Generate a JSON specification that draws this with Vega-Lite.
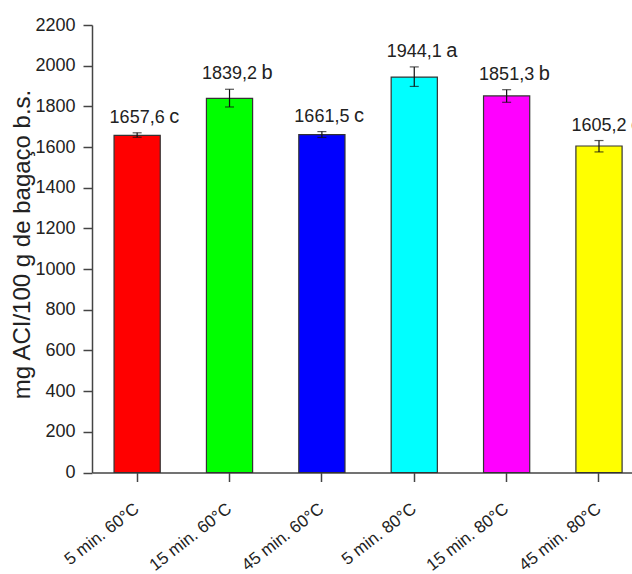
{
  "$schema": "https://vega.github.io/schema/vega-lite/v6.json",
  "autosize": "none",
  "width": 540,
  "height": 447.5,
  "padding": {"left": 92, "top": 25, "right": 0, "bottom": 101.5},
  "background": "white",
  "config": {
    "view": {"stroke": null},
    "font": "Liberation Sans",
    "axis": {"domainColor": "#444", "domainWidth": 1.5, "tickColor": "#444", "tickWidth": 1.5, "labelColor": "#222", "titleColor": "#222", "grid": false, "labelFont": "Liberation Sans", "titleFont": "Liberation Sans"}
  },
  "data": {
    "values": [
      {"cond": "5 min. 60°C", "mean": 1657.6, "lo": 1648, "hi": 1670, "num": "1657,6", "grp": "c"},
      {"cond": "15 min. 60°C", "mean": 1839.2, "lo": 1797, "hi": 1884, "num": "1839,2", "grp": "b"},
      {"cond": "45 min. 60°C", "mean": 1661.5, "lo": 1647, "hi": 1676, "num": "1661,5", "grp": "c"},
      {"cond": "5 min. 80°C", "mean": 1944.1, "lo": 1898, "hi": 1994, "num": "1944,1", "grp": "a"},
      {"cond": "15 min. 80°C", "mean": 1851.3, "lo": 1820, "hi": 1882, "num": "1851,3", "grp": "b"},
      {"cond": "45 min. 80°C", "mean": 1605.2, "lo": 1576, "hi": 1632, "num": "1605,2", "grp": "c"}
    ]
  },
  "encoding": {
    "x": {
      "field": "cond", "type": "nominal", "sort": null,
      "scale": {"paddingInner": 0.5, "paddingOuter": 0.173, "align": 0.69},
      "axis": {"title": null, "labelAngle": -38, "labelAlign": "right", "labelBaseline": "middle", "labelFontSize": 17, "labelPadding": 25, "tickSize": 9}
    }
  },
  "layer": [
    {
      "mark": {"type": "bar", "stroke": "#333", "strokeWidth": 1.2},
      "encoding": {
        "y": {
          "field": "mean", "type": "quantitative",
          "scale": {"domain": [0, 2200], "nice": false},
          "axis": {
            "title": "mg ACI/100 g de bagaço b.s.",
            "titleFontSize": 24, "titleFontWeight": "normal",
            "titleAngle": -90, "titleX": -70, "titleY": 219, "titleAlign": "center", "titleBaseline": "middle",
            "values": [0,100,200,300,400,500,600,700,800,900,1000,1100,1200,1300,1400,1500,1600,1700,1800,1900,2000,2100,2200],
            "labelExpr": "datum.value % 200 === 0 ? datum.label : ''",
            "format": "d",
            "labelFontSize": 18, "labelPadding": 8,
            "tickSize": {"condition": {"test": "datum.value % 200 === 0", "value": 9}, "value": 5}
          }
        },
        "fill": {
          "field": "cond", "type": "nominal", "sort": null, "legend": null,
          "scale": {
            "domain": ["5 min. 60°C", "15 min. 60°C", "45 min. 60°C", "5 min. 80°C", "15 min. 80°C", "45 min. 80°C"],
            "range": ["#ff0000", "#00ff00", "#0000ff", "#00ffff", "#ff00ff", "#ffff00"]
          }
        }
      }
    },
    {
      "mark": {"type": "rule", "color": "#111", "strokeWidth": 1.2},
      "encoding": {
        "y": {"field": "lo", "type": "quantitative"},
        "y2": {"field": "hi"}
      }
    },
    {
      "mark": {"type": "tick", "color": "#111", "size": 9, "thickness": 1.2, "orient": "horizontal"},
      "encoding": {"y": {"field": "lo", "type": "quantitative"}}
    },
    {
      "mark": {"type": "tick", "color": "#111", "size": 9, "thickness": 1.2, "orient": "horizontal"},
      "encoding": {"y": {"field": "hi", "type": "quantitative"}}
    },
    {
      "mark": {"type": "text", "font": "Liberation Sans", "fontSize": 18, "baseline": "alphabetic", "align": "center", "dy": -10, "color": "#222"},
      "encoding": {
        "y": {"field": "hi", "type": "quantitative"},
        "text": {"field": "num"}
      }
    },
    {
      "mark": {"type": "text", "font": "Liberation Sans", "fontSize": 20, "baseline": "alphabetic", "align": "left", "dx": 32, "dy": -10, "color": "#222"},
      "encoding": {
        "y": {"field": "hi", "type": "quantitative"},
        "text": {"field": "grp"}
      }
    }
  ]
}
